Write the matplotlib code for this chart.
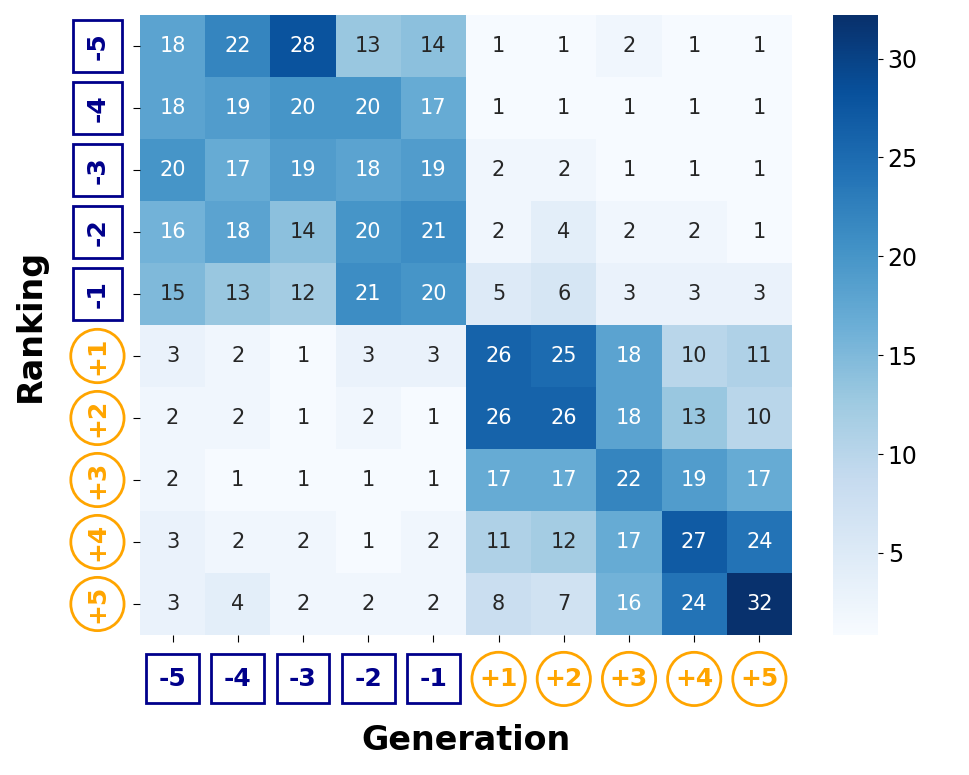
import numpy as np
import matplotlib
matplotlib.use("Agg")
import matplotlib.pyplot as plt
import seaborn as sns

labels = ["-5", "-4", "-3", "-2", "-1", "+1", "+2", "+3", "+4", "+5"]

row_m5 = [18, 22, 28, 13, 14, 1, 1, 2, 1, 1]
row_m4 = [18, 19, 20, 20, 17, 1, 1, 1, 1, 1]
row_m3 = [20, 17, 19, 18, 19, 2, 2, 1, 1, 1]
row_m2 = [16, 18, 14, 20, 21, 2, 4, 2, 2, 1]
row_m1 = [15, 13, 12, 21, 20, 5, 6, 3, 3, 3]
row_p1 = [3, 2, 1, 3, 3, 26, 25, 18, 10, 11]
row_p2 = [2, 2, 1, 2, 1, 26, 26, 18, 13, 10]
row_p3 = [2, 1, 1, 1, 1, 17, 17, 22, 19, 17]
row_p4 = [3, 2, 2, 1, 2, 11, 12, 17, 27, 24]
row_p5 = [3, 4, 2, 2, 2, 8, 7, 16, 24, 32]

data = np.array([row_m5, row_m4, row_m3, row_m2, row_m1,
                 row_p1, row_p2, row_p3, row_p4, row_p5], dtype=float)

NEG = "#00008b"
POS = "#ffa500"

fig = plt.figure(figsize=(9.69, 7.75), dpi=100)
ax = fig.add_axes([140 / 969, 140 / 775, 652 / 969, 620 / 775])
cax = fig.add_axes([833 / 969, 140 / 775, 45 / 969, 620 / 775])

sns.heatmap(data, ax=ax, cbar_ax=cax, cmap="Blues", vmin=0.85, vmax=32.2,
            annot=True, fmt=".0f", annot_kws={"fontsize": 15},
            xticklabels=labels, yticklabels=labels)

cax.tick_params(labelsize=17)
cax.set_yticks([5, 10, 15, 20, 25, 30])

ax.tick_params(axis="x", pad=18, length=5)
ax.tick_params(axis="y", pad=17, length=5)


def style_label(t, rot):
    neg = t.get_text().startswith("-")
    col = NEG if neg else POS
    t.set_rotation(rot)
    t.set_fontsize(18)
    t.set_fontweight("bold")
    t.set_color(col)
    t.set_bbox(dict(boxstyle="square,pad=0.5" if neg else "circle,pad=0.3",
                    fc="white", ec=col, lw=2))


for t in ax.get_xticklabels():
    style_label(t, 0)
for t in ax.get_yticklabels():
    style_label(t, 90)
    t.set_va("center")

ax.set_xlabel("Generation", fontsize=24, fontweight="bold", labelpad=24)
ax.set_ylabel("Ranking", fontsize=24, fontweight="bold", labelpad=28)

fig.savefig("out.png", dpi=100)
